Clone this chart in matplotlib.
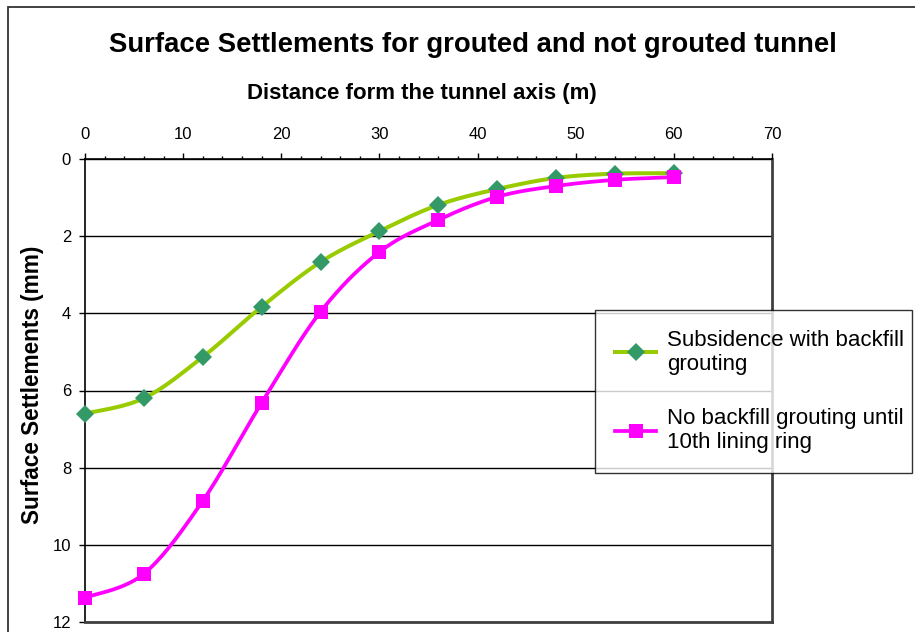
import numpy as np
import matplotlib
matplotlib.use('Agg')
import matplotlib.pyplot as plt
from matplotlib.patches import Rectangle
from matplotlib.ticker import MultipleLocator

plt.rcParams['font.family'] = ['Liberation Sans', 'DejaVu Sans']

# === データ ===
distance = [0, 6, 12, 18, 24, 30, 36, 42, 48, 54, 60]
with_grouting = [6.6, 6.2, 5.13, 3.83, 2.67, 1.87, 1.19, 0.78, 0.49, 0.38, 0.37]
no_grouting = [11.37, 10.75, 8.86, 6.32, 3.96, 2.41, 1.58, 0.98, 0.70, 0.54, 0.47]

label_grouting = 'Subsidence with backfill\ngrouting'
label_no_grouting = 'No backfill grouting until\n10th lining ring'


# Excel風のスムージング（Catmull-Rom）
def smooth(x, y, n=20):
    x = np.asarray(x, float)
    y = np.asarray(y, float)
    px = np.concatenate([[x[0]], x, [x[-1]]])
    py = np.concatenate([[y[0]], y, [y[-1]]])
    xs, ys = [], []
    t = np.linspace(0, 1, n)
    for i in range(1, len(px) - 2):
        b0x, b0y = px[i], py[i]
        b3x, b3y = px[i + 1], py[i + 1]
        b1x = b0x + (px[i + 1] - px[i - 1]) / 6
        b1y = b0y + (py[i + 1] - py[i - 1]) / 6
        b2x = b3x - (px[i + 2] - px[i]) / 6
        b2y = b3y - (py[i + 2] - py[i]) / 6
        xs.append((1-t)**3*b0x + 3*(1-t)**2*t*b1x + 3*(1-t)*t**2*b2x + t**3*b3x)
        ys.append((1-t)**3*b0y + 3*(1-t)**2*t*b1y + 3*(1-t)*t**2*b2y + t**3*b3y)
    return np.concatenate(xs), np.concatenate(ys)


fig = plt.figure(figsize=(9.15, 6.32), dpi=100)
ax = fig.add_axes([85/915, 1 - 622/632, (772-85)/915, (622-159)/632])

# 外枠
fig.patches.append(Rectangle((8/915, -0.1), 1.2, 1.1 - 7/632, transform=fig.transFigure,
                             fill=False, edgecolor='#333333', linewidth=1.3))

green_line = '#99CC00'
green_marker = '#339966'
pink = '#FF00FF'

sx, sy = smooth(distance, with_grouting)
ax.plot(sx, sy, color=green_line, linewidth=2.9, zorder=3, clip_on=False)
sx, sy = smooth(distance, no_grouting)
ax.plot(sx, sy, color=pink, linewidth=2.7, zorder=3, clip_on=False)

ax.plot(distance, with_grouting, linestyle='none', marker='D', markersize=9,
        color=green_marker, markeredgewidth=0, zorder=4, clip_on=False)
ax.plot(distance, no_grouting, linestyle='none', marker='s', markersize=9.5,
        color=pink, markeredgewidth=0, zorder=4, clip_on=False)

# 凡例用ハンドル
h1, = ax.plot([], [], color=green_line, linewidth=2.9, marker='D', markersize=9,
              markerfacecolor=green_marker, markeredgewidth=0)
h2, = ax.plot([], [], color=pink, linewidth=2.7, marker='s', markersize=9.5,
              markerfacecolor=pink, markeredgewidth=0)

ax.set_xlim(0, 70)
ax.set_ylim(12, 0)
ax.xaxis.tick_top()
ax.xaxis.set_major_locator(MultipleLocator(10))
ax.xaxis.set_minor_locator(MultipleLocator(2))
ax.yaxis.set_major_locator(MultipleLocator(2))
ax.tick_params(axis='x', which='major', direction='out', length=4, width=1, pad=8, labelsize=12)
ax.tick_params(axis='x', which='minor', direction='out', length=2.5, width=1)
ax.tick_params(axis='y', direction='out', length=4, width=1, pad=6, labelsize=12)

ax.grid(axis='y', color='black', linewidth=1.0)
ax.set_axisbelow(True)
for side in ['top', 'left']:
    ax.spines[side].set_color('black')
    ax.spines[side].set_linewidth(1.2)
for side in ['right', 'bottom']:
    ax.spines[side].set_color('#404040')
    ax.spines[side].set_linewidth(2)

ax.set_xlabel('Distance form the tunnel axis (m)', fontsize=16, fontweight='bold')
ax.xaxis.set_label_position('top')
ax.xaxis.set_label_coords(0.49, 1.13)
ax.set_ylabel('Surface Settlements (mm)', fontsize=16.3, fontweight='bold')
ax.yaxis.set_label_coords(-0.060, 0.512)

fig.text(473/915, 1 - 45/632, 'Surface Settlements for grouted and not grouted tunnel',
         ha='center', va='center', fontsize=19.8, fontweight='bold')

leg = fig.legend([h1, h2], [label_grouting, label_no_grouting],
                 bbox_to_anchor=(595/915, 1 - 473/632, (912-595)/915, 163/632),
                 loc='center', mode='expand', fontsize=16, frameon=True, fancybox=False,
                 edgecolor='black', handlelength=1.85, handletextpad=0.5,
                 labelspacing=1.5, borderpad=0.9, borderaxespad=0)
leg.get_frame().set_linewidth(1.0)
for txt in leg.get_texts():
    txt.set_linespacing(1.2)

plt.savefig('out.png', dpi=100)
